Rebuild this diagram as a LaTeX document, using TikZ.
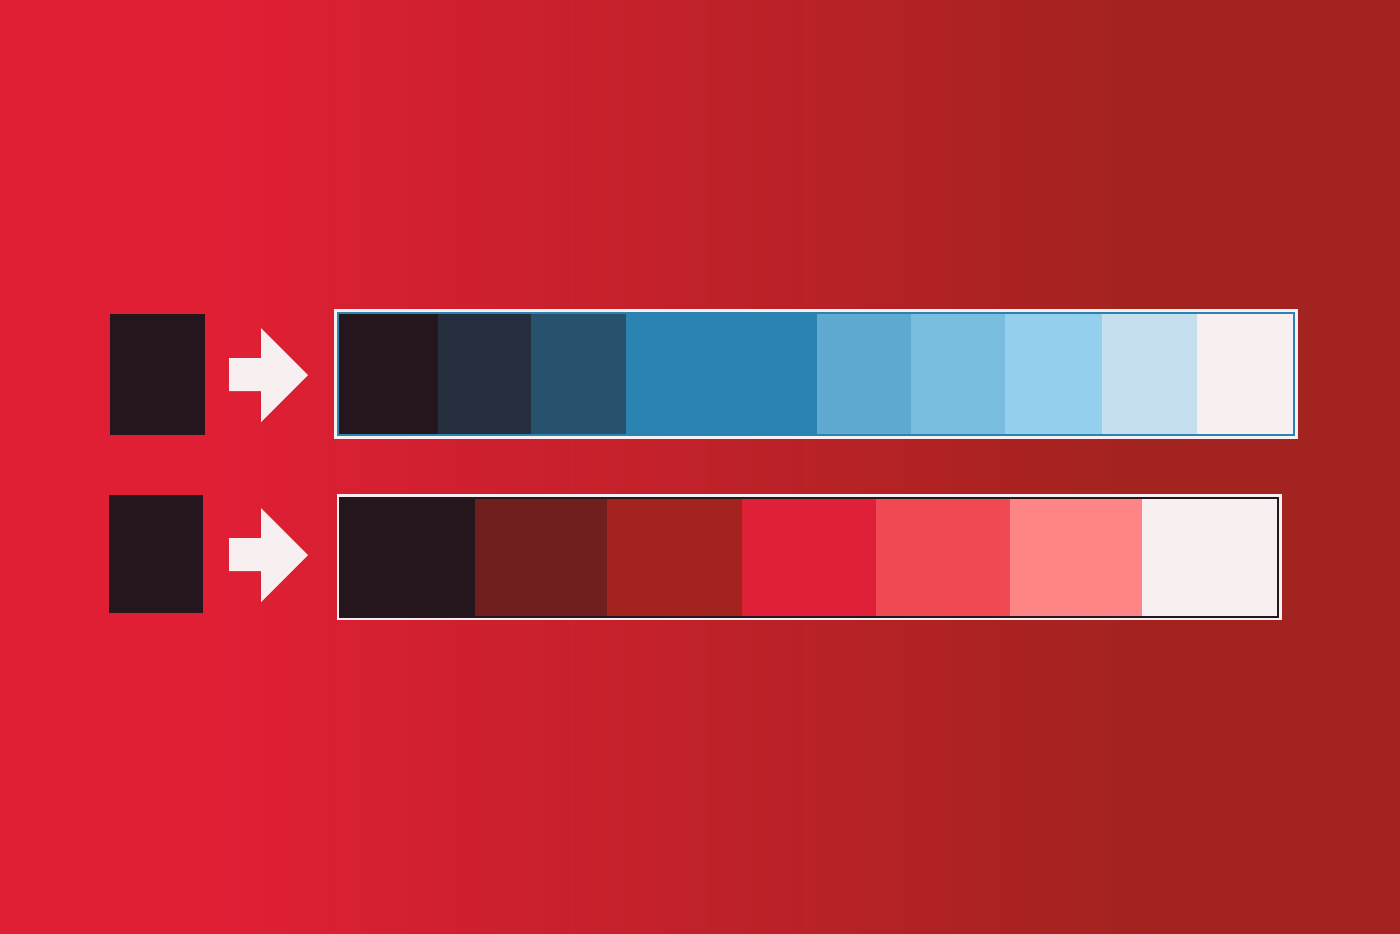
\documentclass[tikz,border=0pt]{standalone}
\usepackage{xcolor}
\usepackage{tikz}
\usetikzlibrary{calc}

\definecolor{bgleft}{HTML}{E01F35}
\definecolor{bgright}{HTML}{A2231F}
\definecolor{inkdark}{HTML}{24161C}
\definecolor{paper}{HTML}{F7EFF0}
\definecolor{seablue}{HTML}{2A83B1}
\definecolor{skyblue}{HTML}{94D0EE}
\definecolor{brick}{HTML}{A3241F}
\definecolor{signal}{HTML}{E02038}
\definecolor{coral}{HTML}{FF6B6B}

\begin{document}
\begin{tikzpicture}[
    x=0.01cm, y=-0.01cm,
    keybox/.style={fill=inkdark},
    pointer/.style={fill=paper},
    frame/.style={fill=paper},
    rim/.style={draw=#1, line width=0.5pt}
]

% background
\useasboundingbox (0,0) rectangle (1400,933);
\fill[bgleft] (-10,-10) rectangle (222,945);
\shade[left color=bgleft, right color=bgright] (220,-10) rectangle (1152,945);
\fill[bgright] (1150,-10) rectangle (1410,945);

% top row
\fill[keybox] (110,314) rectangle (205,435);
\fill[pointer] (229,358) -- (261,358) -- (261,328) -- (308,375)
    -- (261,422) -- (261,391) -- (229,391) -- cycle;
\fill[frame] (334,309) rectangle (1298,439);
\foreach \xa/\xb/\col in {338/438/inkdark, 438/531/seablue!22!inkdark,
    531/626/seablue!55!inkdark, 626/817/seablue, 817/911/skyblue!50!seablue,
    911/1005/skyblue!75!seablue, 1005/1102/skyblue, 1102/1197/skyblue!50!paper,
    1197/1294/paper}
  \fill[\col] (\xa,313) rectangle (\xb,435);
\draw[rim=seablue] (338,313) rectangle (1294,435);

% bottom row
\fill[keybox] (109,495) rectangle (203,613);
\fill[pointer] (229,538) -- (261,538) -- (261,508) -- (308,555)
    -- (261,602) -- (261,571) -- (229,571) -- cycle;
\fill[frame] (337,494) rectangle (1282,620);
\foreach \xa/\xb/\col in {340/475/inkdark, 475/607/brick!60!inkdark,
    607/742/brick, 742/876/signal, 876/1010/coral!55!signal,
    1010/1142/coral!80!paper, 1142/1278/paper}
  \fill[\col] (\xa,498) rectangle (\xb,617);
\draw[rim=inkdark] (340,498) rectangle (1278,617);

\end{tikzpicture}
\end{document}
